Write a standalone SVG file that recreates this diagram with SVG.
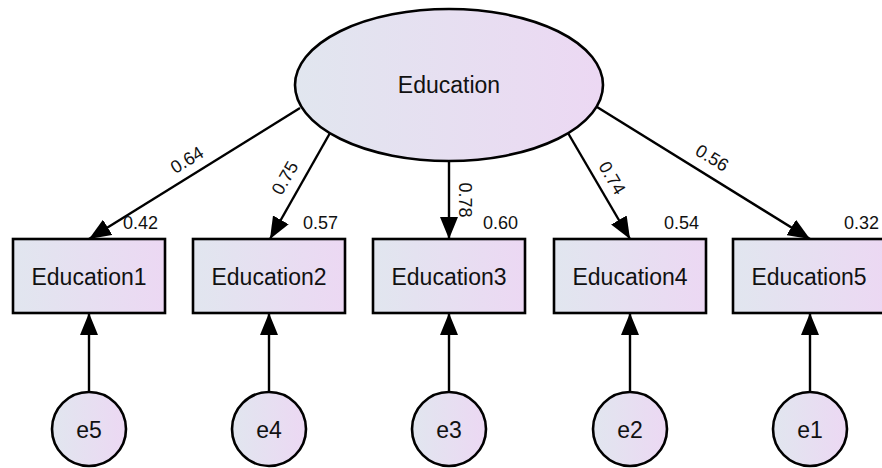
<svg xmlns="http://www.w3.org/2000/svg" width="882" height="468" viewBox="0 0 882 468">
  <defs>
    <linearGradient id="fillGrad" x1="0" y1="0" x2="1" y2="0">
      <stop offset="0" stop-color="#e1e6ef"/>
      <stop offset="1" stop-color="#ecd8f3"/>
    </linearGradient>
    <marker id="arrow" markerUnits="userSpaceOnUse" markerWidth="24" markerHeight="18" refX="22" refY="9" orient="auto">
      <path d="M0,0 L22,9 L0,18 z" fill="#000"/>
    </marker>
    <style>
      .shape { fill: url(#fillGrad); stroke: #000; stroke-width: 2.6; }
      .conn { stroke: #000; stroke-width: 2.4; fill: none; marker-end: url(#arrow); }
      .name { font-family: "Liberation Sans", Arial, sans-serif; font-size: 23px; fill: #111; text-anchor: middle; }
      .num { font-family: "Liberation Sans", Arial, sans-serif; font-size: 18px; fill: #111; }
      .coef { text-anchor: middle; }
    </style>
  </defs>
  <rect width="882" height="468" fill="#fff"/>

  <!-- connectors -->
  <g id="connectors">
    <line class="conn" x1="300" y1="108" x2="89" y2="239"/>
    <line class="conn" x1="330" y1="133" x2="270" y2="239"/>
    <line class="conn" x1="449" y1="161" x2="449" y2="239"/>
    <line class="conn" x1="568" y1="133" x2="630" y2="239"/>
    <line class="conn" x1="597" y1="107" x2="810" y2="239"/>
    <line class="conn" x1="89" y1="392" x2="89" y2="313"/>
    <line class="conn" x1="269" y1="392" x2="269" y2="313"/>
    <line class="conn" x1="449" y1="392" x2="449" y2="313"/>
    <line class="conn" x1="630" y1="392" x2="630" y2="313"/>
    <line class="conn" x1="810" y1="392" x2="810" y2="313"/>
    <!-- path coefficients -->
    <text class="num coef" transform="translate(187,160) rotate(-31.5)" y="6">0.64</text>
    <text class="num coef" transform="translate(285,178) rotate(-60.3)" y="6">0.75</text>
    <text class="num coef" transform="translate(465,200) rotate(90)" y="6">0.78</text>
    <text class="num coef" transform="translate(612,178) rotate(59.4)" y="6">0.74</text>
    <text class="num coef" transform="translate(712,158) rotate(31.6)" y="6">0.56</text>
  </g>

  <!-- latent factor -->
  <g id="education">
    <ellipse class="shape" cx="449" cy="85" rx="154" ry="76"/>
    <text class="name" x="449" y="93">Education</text>
  </g>

  <!-- observed indicators -->
  <g id="education1">
    <rect class="shape" x="13" y="239" width="152" height="74"/>
    <text class="name" x="89" y="285">Education1</text>
    <text class="num" x="123" y="229">0.42</text>
  </g>
  <g id="education2">
    <rect class="shape" x="193" y="239" width="152" height="74"/>
    <text class="name" x="269" y="285">Education2</text>
    <text class="num" x="303" y="229">0.57</text>
  </g>
  <g id="education3">
    <rect class="shape" x="373" y="239" width="152" height="74"/>
    <text class="name" x="449" y="285">Education3</text>
    <text class="num" x="483" y="229">0.60</text>
  </g>
  <g id="education4">
    <rect class="shape" x="554" y="239" width="152" height="74"/>
    <text class="name" x="630" y="285">Education4</text>
    <text class="num" x="664" y="229">0.54</text>
  </g>
  <g id="education5">
    <rect class="shape" x="733" y="239" width="154" height="74"/>
    <text class="name" x="809" y="285">Education5</text>
    <text class="num" x="844" y="229">0.32</text>
  </g>

  <!-- error terms -->
  <g id="e5">
    <circle class="shape" cx="89" cy="429" r="37"/>
    <text class="name" x="89" y="438">e5</text>
  </g>
  <g id="e4">
    <circle class="shape" cx="269" cy="429" r="37"/>
    <text class="name" x="269" y="438">e4</text>
  </g>
  <g id="e3">
    <circle class="shape" cx="449" cy="429" r="37"/>
    <text class="name" x="449" y="438">e3</text>
  </g>
  <g id="e2">
    <circle class="shape" cx="630" cy="429" r="37"/>
    <text class="name" x="630" y="438">e2</text>
  </g>
  <g id="e1">
    <circle class="shape" cx="810" cy="429" r="37"/>
    <text class="name" x="810" y="438">e1</text>
  </g>
</svg>
